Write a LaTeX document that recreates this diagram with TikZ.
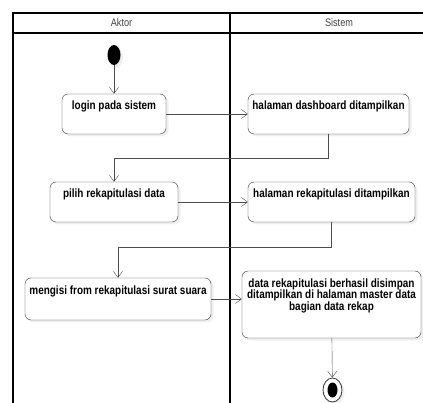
\documentclass[tikz,border=0pt]{standalone}
\usepackage{fontspec}
\setsansfont{Liberation Sans}[FakeStretch=0.83]
\usepackage{tikz}
\usepackage{tkz-euclide}
\usetikzlibrary{arrows.meta,shadows,shapes.geometric}
\newcommand{\acttxt}[3]{\parbox[c][#2][t]{#1}{\centering\rule{0pt}{16pt}#3}}

\begin{document}
\begin{tikzpicture}[x=1pt,y=-1pt,
    act/.style={draw=black!80,rounded corners=6pt,inner sep=0pt,fill=white,
      drop shadow={shadow xshift=2.5pt,shadow yshift=-2.5pt,fill=black!12},
      font=\sffamily\bfseries\fontsize{12}{12}\selectfont},
    flow/.style={draw=black!70,-{Straight Barb[length=6pt,width=9pt]}},
    lane/.style={line width=1.2pt},
    head/.style={font=\sffamily\fontsize{11}{12}\selectfont,text=black!75}]
    \useasboundingbox (0,0) rectangle (423,403);

    \draw[lane] (13,403) -- (13,13) -- (423,13);
    \draw[lane] (13,33) -- (423,33);
    \draw[lane] (230,13) -- (230,403);
    \node[head] (aktor) at (121.5,23) {Aktor};
    \node[head] (sistem) at (339,23) {Sistem};

    \tkzDefPoints{114/55/S0,114/114/A1,328.5/114/B1,114/202/A2,331.5/202/B2,118/299/A3,331.5/304.5/B3,332.5/390/S1}

    \node[ellipse,fill=black,minimum width=13pt,minimum height=20pt,inner sep=0pt,
      drop shadow={shadow xshift=2.5pt,shadow yshift=-2.5pt,fill=black!12}] (start) at (S0) {};
    \node[act] (login) at (A1) {\acttxt{104pt}{40pt}{login pada sistem}};
    \node[act] (dash) at (B1) {\acttxt{161pt}{40pt}{halaman dashboard ditampilkan}};
    \node[act] (pilih) at (A2) {\acttxt{128pt}{40pt}{pilih rekapitulasi data}};
    \node[act] (rekap) at (B2) {\acttxt{167pt}{40pt}{halaman rekapitulasi ditampilkan}};
    \node[act] (mengisi) at (A3) {\acttxt{186pt}{42pt}{mengisi from rekapitulasi surat suara}};
    \node[act] (simpan) at (B3) {\acttxt{179pt}{67pt}{data rekapitulasi berhasil disimpan\\ ditampilkan di halaman master data\\ bagian data rekap}};
    \node[ellipse,draw=black!80,line width=0.8pt,fill=white,minimum width=19pt,minimum height=24pt,inner sep=0pt,
      drop shadow={shadow xshift=2.5pt,shadow yshift=-2.5pt,fill=black!12}] (stop) at (S1) {};
    \node[ellipse,fill=black,minimum width=10pt,minimum height=15pt,inner sep=0pt] (stopdot) at (S1) {};

    \draw[flow] (start) -- (login);
    \draw[flow] (login) -- (dash);
    \draw[flow] (dash.south) -- ++(0,24) -| (pilih.north);
    \draw[flow] (pilih) -- (rekap);
    \draw[flow] (rekap.south) -- ++(0,25) -| (mengisi.north);
    \draw[flow] (mengisi.east) -- (mengisi.east -| simpan.west);
    \draw[flow] (simpan) -- (stop);

\end{tikzpicture}
\end{document}
